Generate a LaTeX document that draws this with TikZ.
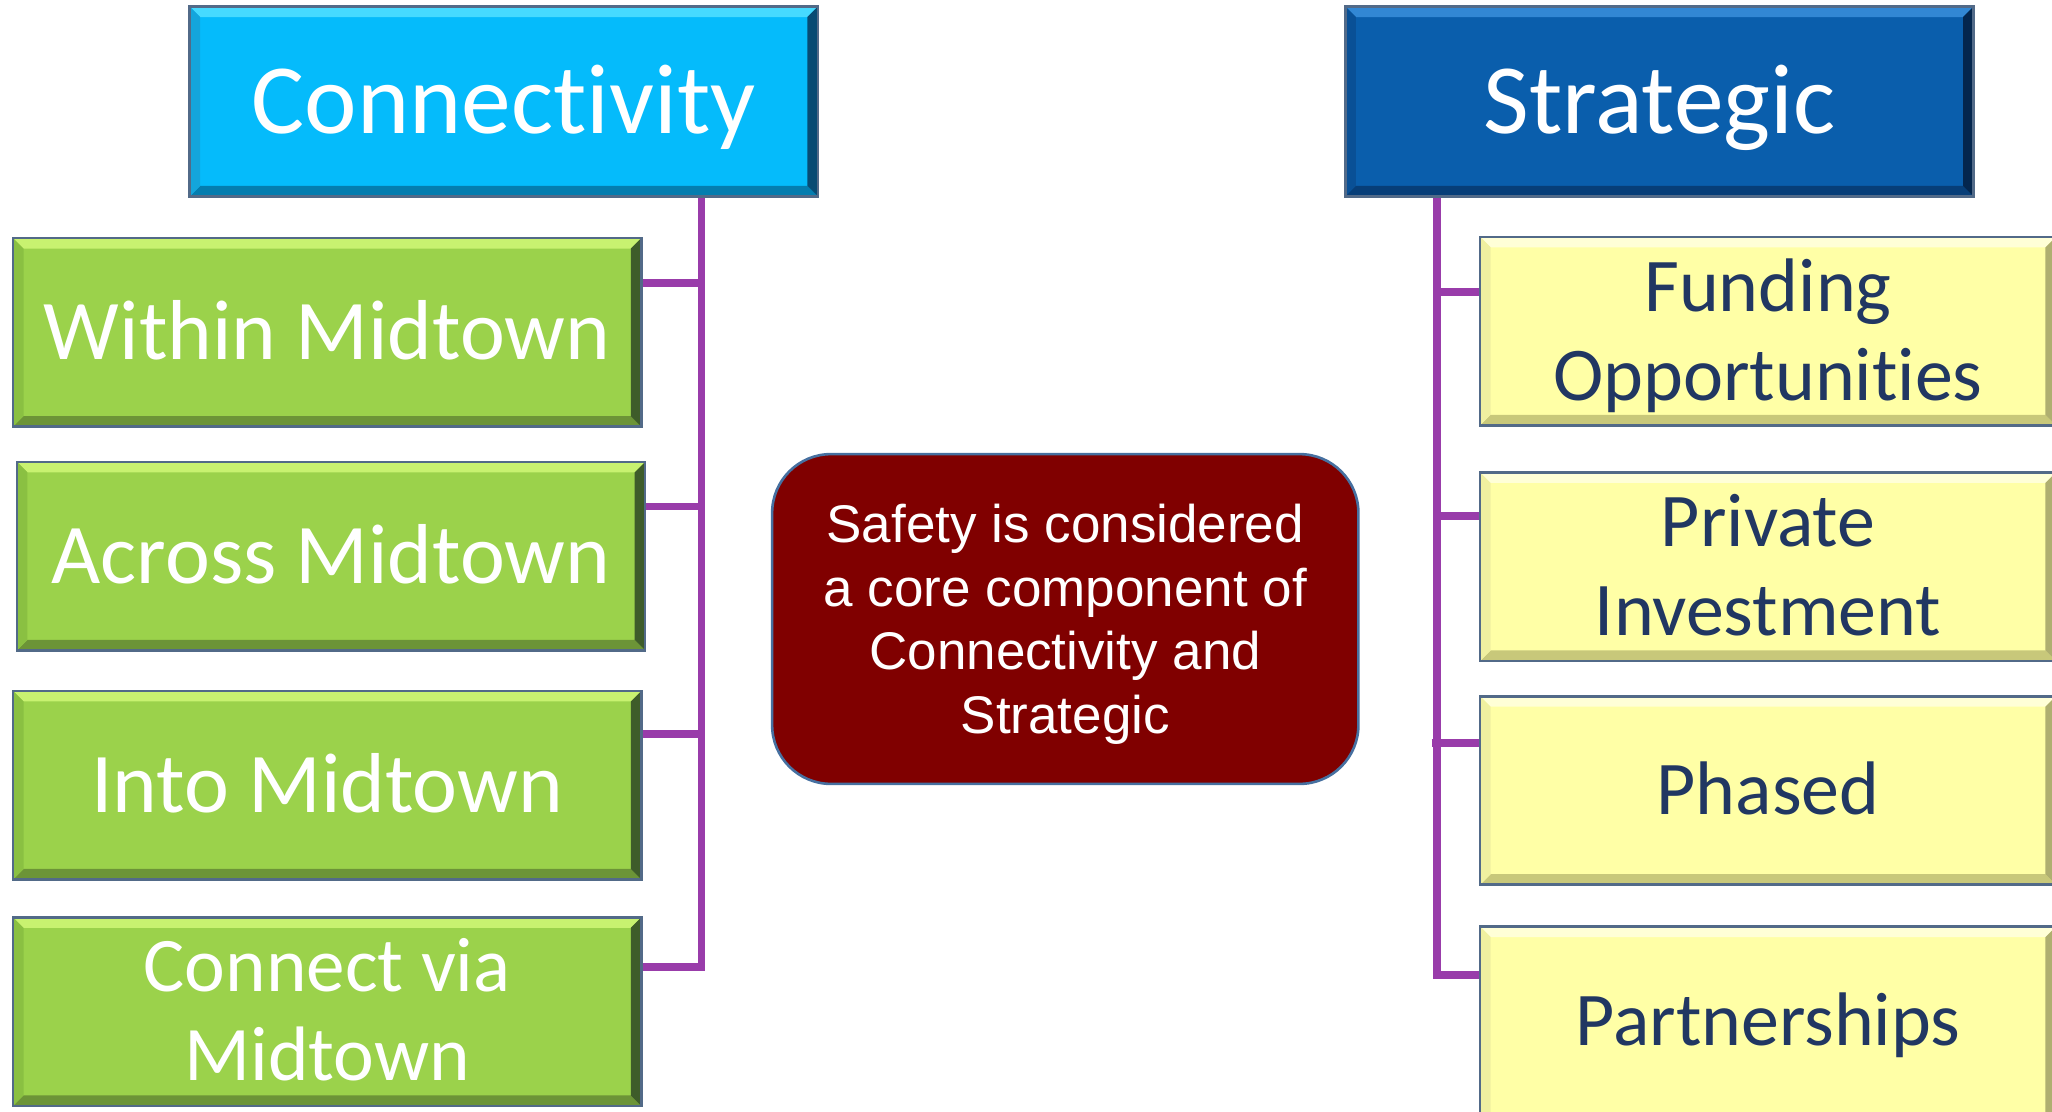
\documentclass[tikz,border=0pt]{standalone}
\usepackage{fontspec}
\setmainfont{Carlito}[Ligatures={NoCommon,NoRare,NoContextual}]
\newfontfamily\arialf{Liberation Sans}
\definecolor{cyanB}{RGB}{5,187,251}
\definecolor{cyanT}{RGB}{70,218,255}
\definecolor{cyanD}{RGB}{4,125,175}
\definecolor{cyanL}{RGB}{20,165,220}
\definecolor{cyanR}{RGB}{8,75,115}
\definecolor{blueB}{RGB}{10,94,172}
\definecolor{blueT}{RGB}{50,135,212}
\definecolor{blueD}{RGB}{7,62,120}
\definecolor{blueL}{RGB}{9,80,150}
\definecolor{blueR}{RGB}{4,38,78}
\definecolor{grnB}{RGB}{155,210,75}
\definecolor{grnT}{RGB}{200,242,112}
\definecolor{grnD}{RGB}{108,148,55}
\definecolor{grnL}{RGB}{138,192,66}
\definecolor{grnR}{RGB}{62,92,42}
\definecolor{ylwB}{RGB}{255,255,166}
\definecolor{ylwT}{RGB}{255,255,215}
\definecolor{ylwD}{RGB}{200,200,122}
\definecolor{ylwL}{RGB}{240,240,160}
\definecolor{ylwR}{RGB}{175,175,112}
\definecolor{edgeC}{RGB}{82,106,136}
\definecolor{navyT}{RGB}{33,55,98}
\definecolor{maroonB}{RGB}{128,0,0}
\definecolor{redEdge}{RGB}{70,112,160}
\definecolor{purpC}{RGB}{153,60,170}
\begin{document}
\begin{tikzpicture}[x=1pt,y=-1pt,
  bevel/.style n args={4}{path picture={
    \fill[#1] (path picture bounding box.north west) -- (path picture bounding box.north east)
      -- ([shift={(-8pt,-8pt)}]path picture bounding box.north east) -- ([shift={(8pt,-8pt)}]path picture bounding box.north west) -- cycle;
    \fill[#2] (path picture bounding box.south west) -- (path picture bounding box.south east)
      -- ([shift={(-8pt,8pt)}]path picture bounding box.south east) -- ([shift={(8pt,8pt)}]path picture bounding box.south west) -- cycle;
    \fill[#3] (path picture bounding box.north west) -- (path picture bounding box.south west)
      -- ([shift={(8pt,8pt)}]path picture bounding box.south west) -- ([shift={(8pt,-8pt)}]path picture bounding box.north west) -- cycle;
    \fill[#4] (path picture bounding box.north east) -- (path picture bounding box.south east)
      -- ([shift={(-8pt,8pt)}]path picture bounding box.south east) -- ([shift={(-8pt,-8pt)}]path picture bounding box.north east) -- cycle;
  }},
  boxbase/.style={rectangle, draw=edgeC, line width=2pt, inner sep=0pt, align=center, text depth=0pt},
  headbox/.style={boxbase, minimum width=480pt, minimum height=145pt, text=white,
     font=\fontsize{76}{80}\selectfont, text height=49pt},
  conbox/.style={headbox, fill=cyanB, bevel={cyanT}{cyanD}{cyanL}{cyanR}},
  strbox/.style={headbox, fill=blueB, bevel={blueT}{blueD}{blueL}{blueR}},
  grnbox/.style={boxbase, minimum width=480pt, minimum height=144pt, text=white,
     fill=grnB, bevel={grnT}{grnD}{grnL}{grnR},
     font=\fontsize{65}{70}\selectfont, text height=41.9pt},
  grnboxtwo/.style={grnbox, font=\fontsize{59}{68}\selectfont, text height=106pt},
  ylwbox/.style={boxbase, minimum width=440pt, minimum height=144pt, text=navyT,
     fill=ylwB, bevel={ylwT}{ylwD}{ylwL}{ylwR},
     font=\fontsize{58}{68}\selectfont, text height=37.4pt},
  ylwboxtwo/.style={ylwbox, text height=105.4pt},
  safebox/.style={rectangle, rounded corners=45pt, fill=maroonB, draw=redEdge, line width=2pt,
     minimum width=448pt, minimum height=252pt, inner sep=0pt, align=center, text=white,
     font=\arialf\fontsize{40.5}{48.5}\selectfont, text height=174.5pt, text depth=0pt},
  purp/.style={draw=purpC, line width=6pt}
]
\useasboundingbox (0,0) rectangle (1568,849);
\clip (0,0) rectangle (1568,849);

% headings
\node[conbox] (conn) at (385,77.5) {Connectivity};
\node[strbox] (strat) at (1268,77.5) {Strategic};

% left column
\node[grnbox] (within) at (250,254) {Within Midtown};
\node[grnbox] (across) at (253,425) {Across Midtown};
\node[grnbox] (into) at (250,600) {Into Midtown};
\node[grnboxtwo] (via) at (250,773) {Connect via\\Midtown};

% right column
\node[ylwboxtwo] (fund) at (1351,253) {Funding\\Opportunities};
\node[ylwboxtwo] (priv) at (1351,433) {Private\\Investment};
\node[ylwbox] (phased) at (1351,604) {Phased};
\node[ylwbox, minimum height=160pt, text depth=15.4pt] (partner) at (1351,788) {Partnerships};

% centre
\node[safebox] (safe) at (814,473) {Safety is considered\\a core component of\\Connectivity and\\Strategic};

% connectors left
\coordinate (lt) at (536,0 |- conn.south);
\draw[purp] (lt) |- (via.east |- 0,739);
\draw[purp] (within.east |- 0,216) -- (536,216);
\draw[purp] (across.east |- 0,387) -- (536,387);
\draw[purp] (into.east |- 0,561) -- (539,561);

% connectors right
\coordinate (rt) at (1098,0 |- strat.south);
\draw[purp] (rt) |- (partner.west |- 0,745);
\draw[purp] (1098,223) -- (fund.west |- 0,223);
\draw[purp] (1098,394) -- (priv.west |- 0,394);
\draw[purp] (1094,568) -- (phased.west |- 0,568);
\end{tikzpicture}
\end{document}
